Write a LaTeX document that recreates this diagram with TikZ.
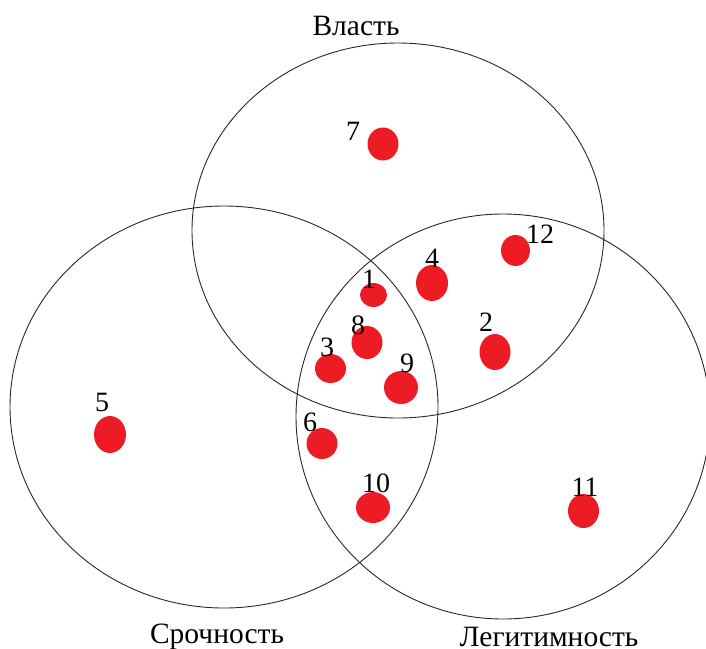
\documentclass[tikz,border=0pt]{standalone}
\usepackage{fontspec}
\setmainfont{Liberation Serif}
\definecolor{dotred}{RGB}{237,28,36}
\definecolor{rim}{RGB}{40,40,40}
\tikzset{
  set/.style={draw=rim, line width=0.9pt},
  pt/.style={fill=dotred, draw=none},
  num/.style={inner sep=0pt, font=\fontsize{28}{30}\selectfont},
  title/.style={inner sep=0pt, anchor=base, font=\fontsize{29.5}{32}\selectfont},
}
\begin{document}
\begin{tikzpicture}[x=1pt, y=-1pt]
  \useasboundingbox (0,0) rectangle (706,648);
  % three sets
  \draw[set] (398,230.5) ellipse [x radius=206, y radius=187.5];
  \draw[set] (224,407) ellipse [x radius=214, y radius=201];
  \draw[set] (503,416.5) ellipse [x radius=207, y radius=202.5];
  % set titles
  \node[title] (power) at (356,35) {Власть};
  \node[title] (urgency) at (217,643) {Срочность};
  \node[title] (legit) at (549,646) {Легитимность};
  % stakeholders
  \fill[pt] (383,144) ellipse [x radius=15.5, y radius=16.5];
  \fill[pt] (373.5,295) ellipse [x radius=13.5, y radius=12];
  \fill[pt] (432,283) ellipse [x radius=16, y radius=18];
  \fill[pt] (367,342.5) ellipse [x radius=15.5, y radius=16.5];
  \fill[pt] (330.5,368.5) ellipse [x radius=15.5, y radius=14.5];
  \fill[pt] (401,387.5) ellipse [x radius=17, y radius=16.5];
  \fill[pt] (515.5,250.5) ellipse [x radius=14.5, y radius=15.5];
  \fill[pt] (495,352) ellipse [x radius=15.5, y radius=18];
  \fill[pt] (110,434.5) ellipse [x radius=16, y radius=18.5];
  \fill[pt] (322,443.5) ellipse [x radius=15.5, y radius=15.5];
  \fill[pt] (373,507.5) ellipse [x radius=17, y radius=15.5];
  \fill[pt] (583.5,511) ellipse [x radius=15.5, y radius=17];
  % stakeholder numbers
  \node[num] (n7) at (353,131) {7};
  \node[num] (n1) at (369,279) {1};
  \node[num] (n4) at (432,258) {4};
  \node[num] (n8) at (358,325) {8};
  \node[num] (n3) at (327,347) {3};
  \node[num] (n9) at (407,363) {9};
  \node[num] (n12) at (540,234) {12};
  \node[num] (n2) at (486,322) {2};
  \node[num] (n5) at (102,402) {5};
  \node[num] (n6) at (310,422) {6};
  \node[num] (n10) at (376,483) {10};
  \node[num] (n11) at (585,487) {11};
\end{tikzpicture}
\end{document}
